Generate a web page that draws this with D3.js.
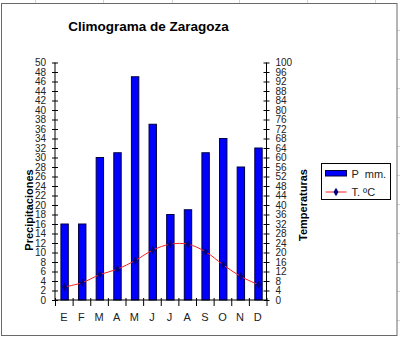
<!DOCTYPE html>
<html>
<head>
<meta charset="utf-8">
<script src="https://cdn.jsdelivr.net/npm/d3@7"></script>
<style>
  html, body { margin: 0; padding: 0; background: #fff; }
  svg { display: block; }
  text { font-family: "Liberation Sans", Arial, sans-serif; }
</style>
</head>
<body>
<svg id="chart" width="400" height="342"></svg>
<script>
// Climograma de Zaragoza: monthly rainfall (bars) and mean temperature (line)
const months = ["E", "F", "M", "A", "M", "J", "J", "A", "S", "O", "N", "D"];
const precip = [16, 16, 30, 31, 47, 37, 18, 19, 31, 34, 28, 32];            // mm
const temp = [5.5, 7.3, 10.7, 13.0, 16.6, 21.0, 23.5, 23.5, 20.3, 14.8, 9.9, 6.4]; // ºC
const precipTicks = d3.range(0, 51, 2);
const tempTicks = d3.range(0, 101, 4);
const legendLabels = ["P  mm.", "T. ºC"];

const svg = d3.select("#chart");
const W = 400, H = 342;

// surrounding sheet gridlines and the chart frame
const sheet = svg.append("g").attr("stroke", "#d4d4d4").attr("stroke-width", 1);
[35, 103, 172, 239, 307, 375].forEach(x =>
  sheet.append("line").attr("x1", x + 0.5).attr("x2", x + 0.5).attr("y1", 0).attr("y2", 3));
d3.range(30, 340, 29).forEach(y =>
  sheet.append("line").attr("x1", 397).attr("x2", W).attr("y1", y + 0.5).attr("y2", y + 0.5));

svg.append("rect")
  .attr("x", 1.5).attr("y", 3.5).attr("width", 395.5).attr("height", 332)
  .attr("fill", "#fff").attr("stroke", "#6a6a6a").attr("stroke-width", 1);

// plot area
const plotLeft = 55, plotRight = 266.5, plotTop = 62.5, plotBottom = 300;

const xBand = d3.scaleBand().domain(d3.range(12)).range([plotLeft, plotRight]);
const xEdge = d3.scaleLinear().domain([0, 12]).range([plotLeft, plotRight]);
const yP = d3.scaleLinear().domain([0, 50]).range([plotBottom, plotTop]);
const yT = d3.scaleLinear().domain([0, 100]).range([plotBottom, plotTop]);

const barW = xBand.bandwidth() * 0.42;
const barShift = 0.8;

// bars
svg.append("g").selectAll("rect").data(precip).join("rect")
  .attr("x", (d, i) => xBand(i) + (xBand.bandwidth() - barW) / 2 + barShift)
  .attr("y", d => yP(d))
  .attr("width", barW)
  .attr("height", d => yP(0) - yP(d))
  .attr("fill", "#0000ff")
  .attr("stroke", "#000040")
  .attr("stroke-width", 1);

// axes
const tickFont = '"Liberation Sans Narrow", "Liberation Sans", Arial, sans-serif';

const gL = svg.append("g").attr("transform", `translate(${plotLeft},0)`)
  .call(d3.axisLeft(yP).tickValues(precipTicks).tickSize(3).tickPadding(6));
gL.selectAll(".tick line").attr("x1", -3).attr("x2", 3);

const gR = svg.append("g").attr("transform", `translate(${plotRight},0)`)
  .call(d3.axisRight(yT).tickValues(tempTicks).tickSize(3).tickPadding(6));
gR.selectAll(".tick line").attr("x1", -3).attr("x2", 3);

[gL, gR].forEach(g => {
  g.select(".domain").attr("stroke", "#000").attr("d", `M0,${plotTop}V${plotBottom}`);
  g.selectAll(".tick line").attr("stroke", "#000");
  g.selectAll(".tick text").attr("font-family", tickFont).attr("font-size", 10).attr("fill", "#222");
});

const gX = svg.append("g").attr("transform", `translate(0,${plotBottom})`)
  .call(d3.axisBottom(xEdge).tickValues(d3.range(13)).tickSize(6).tickFormat(""));
gX.select(".domain").attr("stroke", "#000").attr("d", `M${plotLeft},0H${plotRight}`);
gX.selectAll(".tick line").attr("stroke", "#000").attr("y1", -2);

const gXL = svg.append("g").attr("transform", `translate(0,${plotBottom})`)
  .call(d3.axisBottom(xBand).tickSize(0).tickPadding(13).tickFormat(i => months[i]));
gXL.select(".domain").remove();
gXL.selectAll(".tick text").attr("font-family", '"Liberation Sans", Arial, sans-serif')
  .attr("font-size", 11).attr("fill", "#222");

// temperature line
const tx = i => xBand(i) + xBand.bandwidth() / 2 + barShift;
svg.append("path")
  .datum(temp)
  .attr("d", d3.line().x((d, i) => tx(i)).y(d => yT(d)).curve(d3.curveCatmullRom.alpha(0.5)))
  .attr("fill", "none")
  .attr("stroke", "#ff2020")
  .attr("stroke-width", 1);

const diamond = d3.symbol().type(d3.symbolDiamond).size(22);
svg.append("g").selectAll("path").data(temp).join("path")
  .attr("transform", (d, i) => `translate(${tx(i)},${yT(d)})`)
  .attr("d", diamond)
  .attr("fill", "#000080");

// titles
svg.append("text")
  .attr("x", 148.5).attr("y", 31)
  .attr("text-anchor", "middle")
  .attr("font-size", 13.5).attr("font-weight", "bold")
  .text("Climograma de Zaragoza");

svg.append("text")
  .attr("transform", "translate(33,210) rotate(-90)")
  .attr("text-anchor", "middle")
  .attr("font-size", 11).attr("font-weight", "bold")
  .text("Precipitaciones");

svg.append("text")
  .attr("transform", "translate(307,205) rotate(-90)")
  .attr("text-anchor", "middle")
  .attr("font-size", 11).attr("font-weight", "bold")
  .text("Temperaturas");

// legend
const lg = svg.append("g").attr("transform", "translate(321.5,163.5)");
lg.append("rect").attr("width", 69).attr("height", 36)
  .attr("fill", "#fff").attr("stroke", "#000").attr("stroke-width", 1);
lg.append("rect").attr("x", 4).attr("y", 7).attr("width", 21).attr("height", 5.5)
  .attr("fill", "#0000ff").attr("stroke", "#000040");
lg.append("line").attr("x1", 4).attr("x2", 25).attr("y1", 28.5).attr("y2", 28.5)
  .attr("stroke", "#ff2020").attr("stroke-width", 1);
lg.append("path").attr("transform", "translate(14.5,28.5)").attr("d", diamond).attr("fill", "#000080");
lg.selectAll("text.lab").data(legendLabels).join("text")
  .attr("class", "lab")
  .attr("x", 30).attr("y", (d, i) => 14 + i * 18)
  .attr("font-size", 11).attr("fill", "#222")
  .attr("xml:space", "preserve").style("white-space", "pre")
  .text(d => d);
</script>
</body>
</html>
